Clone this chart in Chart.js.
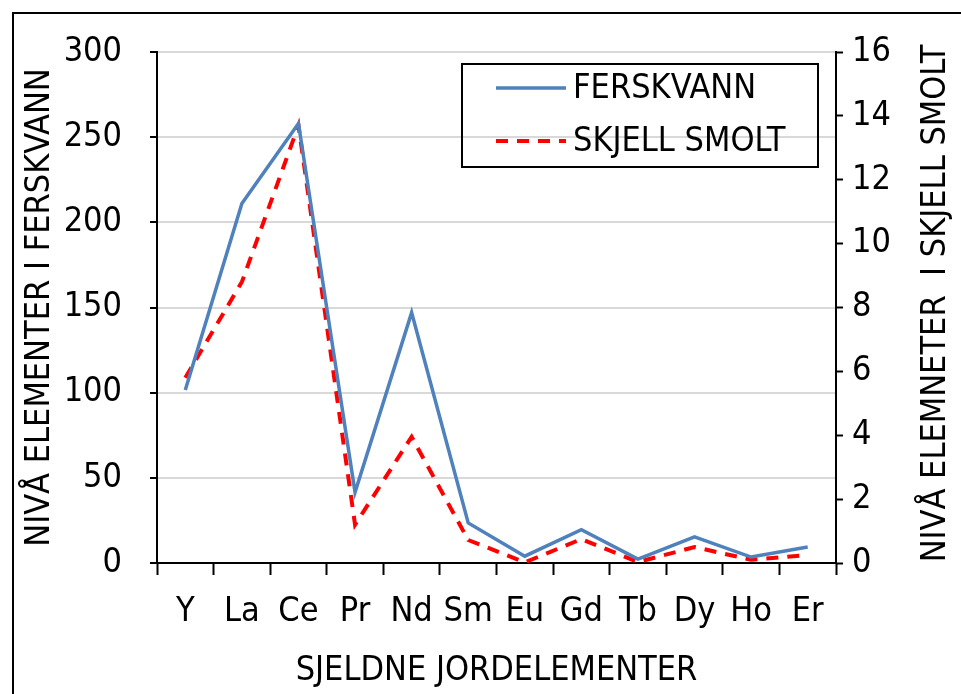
<!DOCTYPE html>
<html>
<head>
<meta charset="utf-8">
<script src="https://cdn.jsdelivr.net/npm/chart.js@4.4.0/dist/chart.umd.min.js"></script>
<style>
  html, body { margin: 0; padding: 0; background: #fff; }
  #wrap { width: 961px; height: 694px; position: relative; }
</style>
</head>
<body>
<div id="wrap"><canvas id="rareChart" width="961" height="694"></canvas></div>
<script>
// Data
const categories = ['Y', 'La', 'Ce', 'Pr', 'Nd', 'Sm', 'Eu', 'Gd', 'Tb', 'Dy', 'Ho', 'Er'];
const ferskvann = [101.5, 211, 258, 41.5, 147, 23.5, 4, 19.5, 2.3, 15.3, 3.5, 9.4];
const skjellSmolt = [5.8, 8.8, 13.7, 1.2, 3.95, 0.72, 0.02, 0.75, 0.03, 0.5, 0.1, 0.25];

const leftTicks = { min: 0, max: 300, step: 50 };
const rightTicks = { min: 0, max: 16, step: 2 };

const FONT = "'Liberation Sans Narrow', 'DejaVu Sans Condensed', 'Noto Sans', sans-serif";
const FONT_SIZE = 34;

// white page + outer frame
const framePlugin = {
    id: 'frame',
    beforeDraw(chart) {
        const ctx = chart.ctx;
        ctx.save();
        ctx.fillStyle = '#fff';
        ctx.fillRect(0, 0, chart.width, chart.height);
        ctx.strokeStyle = '#000';
        ctx.lineWidth = 2;
        ctx.strokeRect(13, 13, chart.width + 20, chart.height + 20);
        ctx.restore();
    }
};

// right axis title reads bottom-to-top like the left one
const rightTitle = {
    id: 'rightTitle',
    afterDraw(chart) {
        const sc = chart.scales.y2;
        const t = sc.options.title;
        const ctx = chart.ctx;
        ctx.save();
        ctx.translate(sc.right - 25, (chart.chartArea.top + chart.chartArea.bottom) / 2 - 4);
        ctx.rotate(-Math.PI / 2);
        ctx.font = FONT_SIZE + 'px ' + FONT;
        ctx.fillStyle = '#000';
        ctx.textAlign = 'center';
        ctx.textBaseline = 'middle';
        ctx.fillText(t.text, 0, 0);
        ctx.restore();
    }
};

// boxed legend inside the plot
const boxLegend = {
    id: 'boxLegend',
    afterDraw(chart) {
        const ctx = chart.ctx;
        ctx.save();
        ctx.strokeStyle = '#000';
        ctx.lineWidth = 2;
        ctx.strokeRect(462, 64, 356, 103);
        ctx.font = FONT_SIZE + 'px ' + FONT;
        ctx.textBaseline = 'middle';
        ctx.fillStyle = '#000';
        const rows = [88, 141];
        chart.data.datasets.forEach((ds, i) => {
            const y = rows[i];
            ctx.beginPath();
            ctx.strokeStyle = ds.borderColor;
            ctx.lineWidth = ds.borderWidth;
            ctx.setLineDash(ds.borderDash || []);
            ctx.moveTo(496, y);
            ctx.lineTo(566, y);
            ctx.stroke();
            ctx.setLineDash([]);
            ctx.fillText(ds.label, 573, y + 1);
        });
        ctx.restore();
    }
};

new Chart(document.getElementById('rareChart'), {
    type: 'line',
    data: {
        labels: categories,
        datasets: [
            {
                label: 'FERSKVANN',
                data: ferskvann,
                yAxisID: 'y',
                borderColor: '#4F81BD',
                borderWidth: 3.5,
                pointRadius: 0,
                tension: 0
            },
            {
                label: 'SKJELL SMOLT',
                data: skjellSmolt,
                yAxisID: 'y2',
                borderColor: '#FF0000',
                borderWidth: 4,
                borderDash: [12, 9],
                pointRadius: 0,
                tension: 0
            }
        ]
    },
    options: {
        responsive: false,
        animation: false,
        layout: { padding: { top: 52, left: 0, right: 0, bottom: 0 } },
        plugins: {
            legend: { display: false },
            tooltip: { enabled: false }
        },
        scales: {
            x: {
                offset: true,
                grid: {
                    offset: true,
                    drawOnChartArea: false,
                    drawTicks: true,
                    tickLength: 12,
                    tickColor: '#000',
                    tickWidth: 2
                },
                border: { color: '#000', width: 2 },
                ticks: {
                    color: '#000',
                    padding: 17,
                    maxRotation: 0,
                    font: { family: FONT, size: FONT_SIZE }
                },
                title: {
                    display: true,
                    text: 'SJELDNE JORDELEMENTER',
                    color: '#000',
                    padding: { top: 0, bottom: 2 },
                    font: { family: FONT, size: FONT_SIZE }
                },
                afterFit(scale) { scale.height = 131; }
            },
            y: {
                position: 'left',
                min: leftTicks.min,
                max: leftTicks.max,
                grid: {
                    color: '#d9d9d9',
                    lineWidth: 2,
                    tickColor: '#000',
                    tickLength: 7,
                    tickWidth: 2
                },
                border: { color: '#000', width: 2 },
                ticks: {
                    stepSize: leftTicks.step,
                    color: '#000',
                    padding: 28,
                    font: { family: FONT, size: FONT_SIZE }
                },
                title: {
                    display: true,
                    text: 'NIVÅ ELEMENTER I FERSKVANN',
                    color: '#000',
                    padding: { top: 20, bottom: 0 },
                    font: { family: FONT, size: FONT_SIZE }
                },
                afterFit(scale) { scale.width = 157; }
            },
            y2: {
                position: 'right',
                min: rightTicks.min,
                max: rightTicks.max,
                grid: {
                    drawOnChartArea: false,
                    tickColor: '#000',
                    tickLength: 7,
                    tickWidth: 2
                },
                border: { color: '#000', width: 2 },
                ticks: {
                    stepSize: rightTicks.step,
                    color: '#000',
                    padding: 9,
                    font: { family: FONT, size: FONT_SIZE }
                },
                title: {
                    display: false,
                    text: 'NIVÅ ELEMNETER  I SKJELL SMOLT'
                },
                afterFit(scale) { scale.width = 125; }
            }
        }
    },
    plugins: [framePlugin, rightTitle, boxLegend]
});
</script>
</body>
</html>
